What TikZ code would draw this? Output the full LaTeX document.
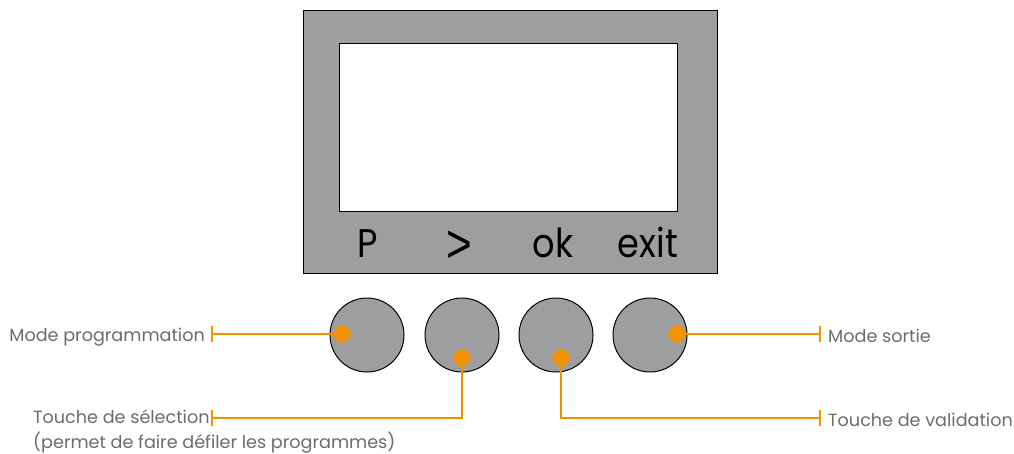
\documentclass[tikz,border=0pt]{standalone}
\usepackage{fontspec}
\setmainfont{Poppins}
\newfontfamily\keyfont[FakeStretch=0.88]{Poppins}
\newfontfamily\gtfont{Liberation Sans}
\usetikzlibrary{calc}
\definecolor{casegray}{RGB}{157,158,160}
\definecolor{orng}{RGB}{243,146,0}
\definecolor{txtgray}{RGB}{108,108,110}
\tikzset{
  button/.style={circle,draw=black,line width=1pt,fill=casegray,minimum size=74pt,inner sep=0pt},
  dot/.style={circle,fill=orng,minimum size=17pt,inner sep=0pt},
  lead/.style={draw=orng,line width=1.2pt},
  keylabel/.style={font=\keyfont\fontsize{40}{40}\selectfont,text=black,inner sep=0pt,anchor=base},
  callout/.style={font=\fontsize{17.6}{22}\selectfont,text=txtgray,inner sep=0pt,align=left},
}
\begin{document}
\begin{tikzpicture}[x=1pt,y=-1pt]
\useasboundingbox (0,0) rectangle (1014,453);
% case
\node[draw=black,line width=1pt,fill=casegray,minimum width=414pt,minimum height=263pt,inner sep=0pt,anchor=north west] (case) at (303,10) {};
\node[draw=black,line width=1pt,fill=white,minimum width=338pt,minimum height=168pt,inner sep=0pt,anchor=north west] (screen) at (339,43) {};
\node[keylabel] (kP) at (368,257) {P};
\node[keylabel] (kS) at (459,257) {\raisebox{-5pt}{\scalebox{1.1}[1.35]{\gtfont >}}};
\node[keylabel] (kO) at (553,257) {ok};
\node[keylabel] (kE) at (648,257) {exit};
% buttons
\node[button] (b1) at (367,335) {};
\node[button] (b2) at (462,335) {};
\node[button] (b3) at (556,335) {};
\node[button] (b4) at (650,335) {};
% dots
\node[dot] (d1) at (342,334) {};
\node[dot] (d2) at (462,358) {};
\node[dot] (d3) at (561,358) {};
\node[dot] (d4) at (677,334) {};
% tick coordinates
\coordinate (t1) at (212,334);
\coordinate (t2) at (212,418);
\coordinate (t3) at (820,418);
\coordinate (t4) at (820,334);
% leaders
\draw[lead] (t1) -- (d1.center);
\draw[lead] (t2) -| (d2.center);
\draw[lead] (t3) -| (d3.center);
\draw[lead] (t4) -- (d4.center);
\foreach \t in {t1,t2,t3,t4}{
  \draw[lead] ($(\t)+(0,-8)$) -- ($(\t)+(0,8)$);
}
\fill[orng] (d1) circle (8.5pt);
\fill[orng] (d2) circle (8.5pt);
\fill[orng] (d3) circle (8.5pt);
\fill[orng] (d4) circle (8.5pt);
% labels
\node[callout,anchor=base east] (l1) at (205,341) {Mode programmation};
\node[callout,anchor=base west] (l2) at (33,423) {Touche de sélection};
\node[callout,anchor=base west] (l2b) at (33,448) {(permet de faire défiler les programmes)};
\node[callout,anchor=base west] (l4) at (828,342) {Mode sortie};
\node[callout,anchor=base west] (l3) at (828,426) {Touche de validation};
\end{tikzpicture}
\end{document}
